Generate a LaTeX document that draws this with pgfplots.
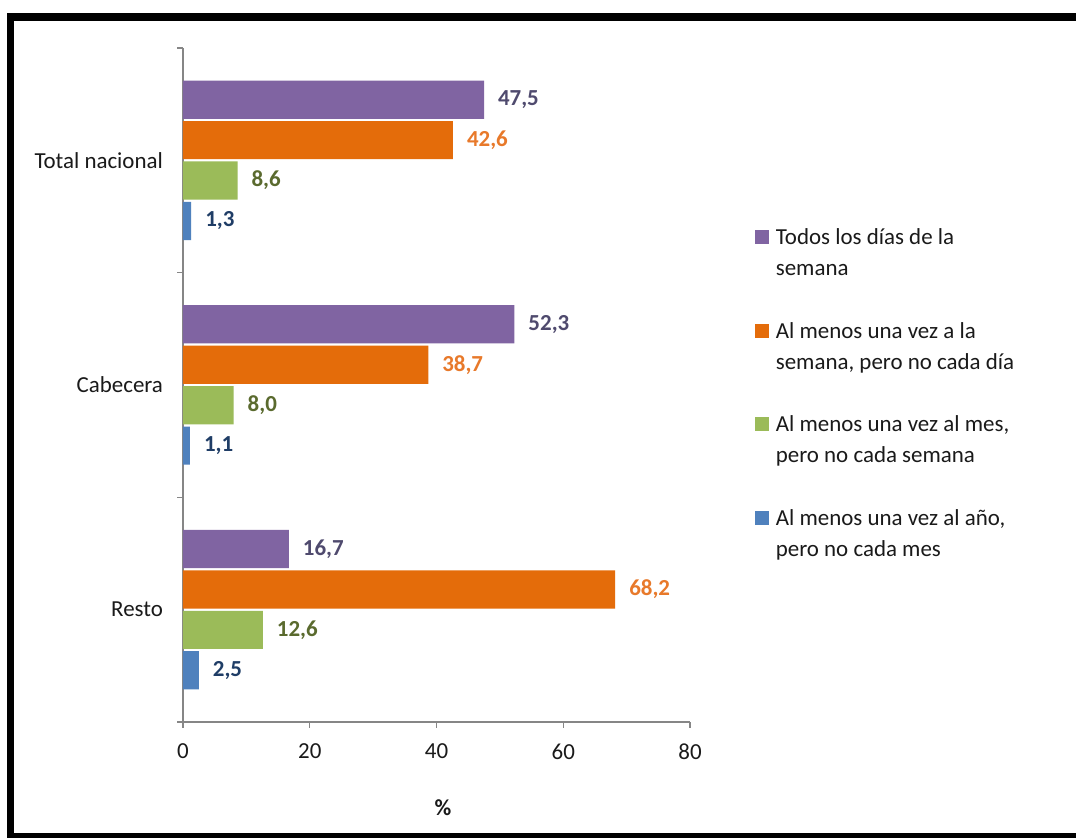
\documentclass[border=0pt]{standalone}
\usepackage{pgfplots}
\pgfplotsset{compat=1.18}
\usepackage{fontspec}
\setmainfont{Carlito}
\definecolor{cpurple}{HTML}{8064A2}
\definecolor{corange}{HTML}{E46C0A}
\definecolor{cgreen}{HTML}{9BBB59}
\definecolor{cblue}{HTML}{4F81BD}
\definecolor{lpurple}{HTML}{4F4A6E}
\definecolor{lorange}{HTML}{E8792A}
\definecolor{lgreen}{HTML}{5A6A2E}
\definecolor{lblue}{HTML}{1F3D66}
\definecolor{axgray}{HTML}{868686}
\definecolor{txt}{HTML}{1A1A1A}
\newcommand\fnt{\fontsize{17.2}{23.25}\selectfont}
\begin{document}
\begin{tikzpicture}
\useasboundingbox (0,0) rectangle (807pt,628.5pt);
\fill[white] (0,0) rectangle (807pt,628.5pt);
\fill[black] (5.25pt,612.75pt) rectangle (807pt,618.75pt);
\fill[black] (5.25pt,0pt) rectangle (10.5pt,618.75pt);
\fill[black] (5.25pt,0pt) rectangle (807pt,3.75pt);
\begin{axis}[
  at={(137.25pt,87pt)}, anchor=south west,
  scale only axis, width=380.25pt, height=505.5pt,
  xbar, bar width=0.17,
  xmin=0, xmax=80, ymin=-0.5, ymax=2.5,
  axis x line*=bottom, axis y line*=left,
  axis line style={draw=axgray, line width=0.8pt, -},
  tick style={draw=axgray, line width=0.8pt},
  tick align=outside, major tick length=4.5pt,
  xtick={0,20,40,60,80},
  ytick={-0.5,0.5,1.5,2.5}, yticklabels={},
  extra y ticks={0,1,2},
  extra y tick labels={Resto,Cabecera,Total nacional},
  extra y tick style={major tick length=0pt, tick style={draw=none}},
  /pgf/number format/assume math mode=true,
  ticklabel style={font=\fnt, text=txt},
  yticklabel style={xshift=-11.5pt},
  xticklabel style={yshift=-8.5pt},
  xlabel={\textbf{\%}},
  xlabel style={at={(axis description cs:0.513,-0.1276)}, anchor=center, font=\fnt, text=txt},
  point meta=x,
  nodes near coords={\pgfmathprintnumber[fixed,fixed zerofill,precision=1,use comma,assume math mode=true]{\pgfplotspointmeta}},
  every node near coord/.append style={font=\fnt\bfseries, anchor=west, xshift=7pt},
  legend cell align=left,
  legend style={at={(axis description cs:1.128,0.736)}, anchor=north west, draw=none, fill=none,
    inner sep=0pt, row sep=29.5pt, nodes={align=left, font=\fnt, text=txt, inner xsep=5pt}},
  legend image code/.code={\fill[#1] (0pt,7pt) rectangle (10.5pt,17.5pt);},
]
\addplot[fill=cpurple, draw=none, bar shift=0.27, every node near coord/.append style={text=lpurple}]
  coordinates {(47.5,2) (52.3,1) (16.7,0)};
\addplot[fill=corange, draw=none, bar shift=0.09, every node near coord/.append style={text=lorange}]
  coordinates {(42.6,2) (38.7,1) (68.2,0)};
\addplot[fill=cgreen, draw=none, bar shift=-0.09, every node near coord/.append style={text=lgreen}]
  coordinates {(8.6,2) (8.0,1) (12.6,0)};
\addplot[fill=cblue, draw=none, bar shift=-0.27, every node near coord/.append style={text=lblue}]
  coordinates {(1.3,2) (1.1,1) (2.5,0)};
\legend{{Todos los días de la\\semana}, {Al menos una vez a la\\semana, pero no cada día}, {Al menos una vez al mes,\\pero no cada semana}, {Al menos una vez al año,\\pero no cada mes}}
\end{axis}
\end{tikzpicture}
\end{document}
